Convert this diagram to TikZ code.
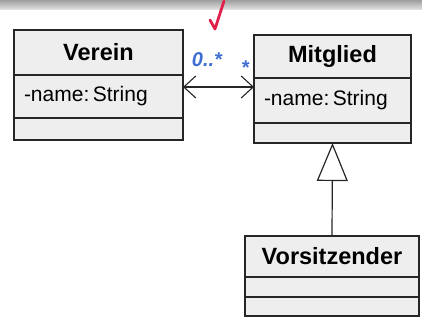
\documentclass[tikz,border=0pt]{standalone}
\usepackage{fontspec}
\setmainfont{Liberation Sans}
\usetikzlibrary{arrows.meta}
\definecolor{boxfill}{HTML}{EEEEEE}
\definecolor{pen}{HTML}{3F6FD0}
\definecolor{tick}{HTML}{E0204A}
\begin{document}
\begin{tikzpicture}[x=1pt,y=-1pt,
  part/.style={draw=black!85, line width=1.4pt, fill=boxfill, inner sep=0pt, outer sep=0pt, anchor=north west},
  titlepart/.style={part, font=\fontsize{23.5}{27}\selectfont\bfseries},
  attrpart/.style={part, font=\fontsize{21}{25}\selectfont, align=left, inner xsep=10pt},
  handlabel/.style={text=pen, font=\fontsize{20}{22}\selectfont\bfseries\itshape, inner sep=0pt},
  conn/.style={draw=black!85, line width=1.2pt}
]
\useasboundingbox (0,0) rectangle (422,326);
\shade[top color=gray!75, bottom color=gray!20] (0,0) rectangle (422,10);

% Verein
\node[titlepart, minimum width=169pt, minimum height=45pt] (vt) at (14,30) {Verein};
\node[attrpart, text width=149pt, minimum height=43pt] (va) at (14,75) {-name:\,String};
\node[part, minimum width=169pt, minimum height=22pt] (ve) at (14,118) {};

% Mitglied
\node[titlepart, minimum width=157pt, minimum height=43pt] (mt) at (254,35) {Mitglied};
\node[attrpart, text width=137pt, minimum height=45pt] (ma) at (254,78) {-name:\,String};
\node[part, minimum width=157pt, minimum height=20pt] (me) at (254,123) {};

% Vorsitzender
\node[titlepart, minimum width=174pt, minimum height=41pt] (st) at (245,236) {Vorsitzender};
\node[part, minimum width=174pt, minimum height=20pt] (sa) at (245,277) {};
\node[part, minimum width=174pt, minimum height=19pt] (se) at (245,297) {};

% association
\draw[conn, {Straight Barb[length=12pt,width=22pt,line width=1.1pt]}-{Straight Barb[length=12pt,width=22pt,line width=1.1pt]}]
  ([yshift=-12pt]va.north east) -- ([yshift=-9pt]ma.north west);

% generalization
\draw[conn, -{Triangle[open,length=38pt,width=31pt,line width=1.2pt,fill=white]}] (st.north) -- (me.south);

% handwritten multiplicities
\node[handlabel] (m1) at (207,60) {0..*};
\node[handlabel] (m2) at (245,68) {*};

% check mark
\draw[tick, line width=2.8pt, line cap=round, line join=round] (210,20) -- (215,29) -- (224,1);
\end{tikzpicture}
\end{document}
